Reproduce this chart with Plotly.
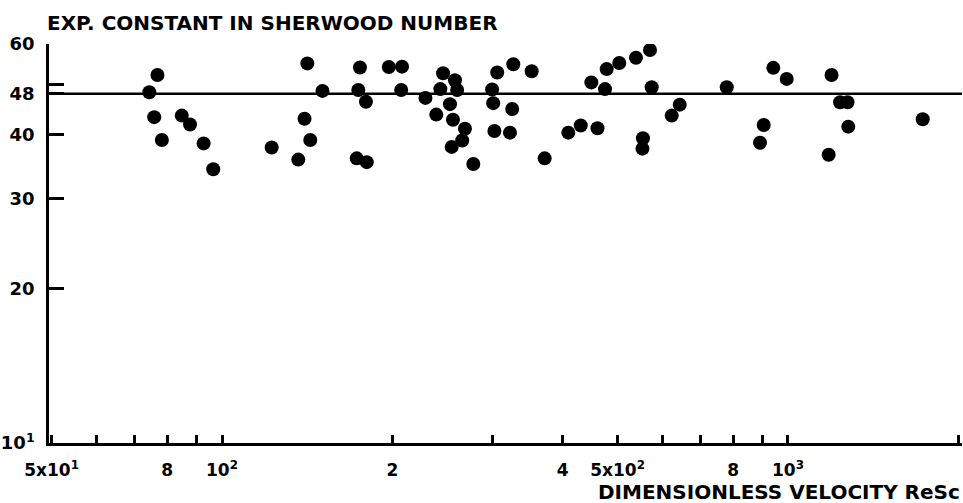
import plotly.graph_objects as go

re_sc = [74.4, 76.9, 75.9, 78.3, 84.9, 87.8, 92.8, 96.5, 122.4, 136.4,
         139.9, 143.2, 141.5, 150.5, 175.3, 174.1, 179.6, 173.0, 180.2, 197.1,
         208.0, 207.3, 228.8, 239.1, 245.8, 243.1, 258.0, 260.3, 252.8, 255.9,
         268.7, 265.7, 254.6, 278.0, 306.4, 327.1, 352.5, 300.1, 301.4, 325.6,
         302.9, 322.7, 371.6, 409.1, 430.4, 460.7, 449.3, 475.0, 478.3, 503.4,
         538.8, 570.4, 574.4, 554.3, 553.2, 623.1, 643.8, 779.5, 942.0, 994.8,
         906.0, 892.4, 1194, 1236, 1274, 1278, 1180, 1730]
sh_const = [48.3, 52.2, 43.2, 39.0, 43.5, 41.8, 38.4, 34.2, 37.7, 35.7,
            42.9, 39.0, 55.0, 48.6, 54.0, 48.8, 46.3, 35.9, 35.3, 54.1,
            54.2, 48.8, 47.1, 43.7, 52.6, 49.0, 51.0, 48.8, 45.8, 42.7,
            41.0, 38.9, 37.8, 35.0, 52.8, 54.8, 53.1, 48.9, 46.0, 44.8,
            40.6, 40.3, 35.9, 40.3, 41.6, 41.1, 50.5, 49.0, 53.6, 55.1,
            56.4, 58.4, 49.4, 39.3, 37.5, 43.5, 45.7, 49.4, 53.9, 51.3,
            41.7, 38.5, 52.2, 46.2, 46.2, 41.4, 36.5, 42.8]
mean_const = 48

x_tickvals = [50, 60, 70, 80, 90, 100, 200, 300, 400, 500, 600, 700, 800, 900, 1000, 2000]
x_ticktext = ["5x10<sup>1</sup>", "", "", "8", "", "10<sup>2</sup>", "2", "", "4",
              "5x10<sup>2</sup>", "", "", "8", "", "10<sup>3</sup>", "2"]
y_tickvals = [10, 20, 30, 40, 48, 50, 60]
y_ticktext = ["10<sup>1</sup>", "20", "30", "40", "48", "", "60"]

x_title = "DIMENSIONLESS VELOCITY ReSc"
y_title = "EXP. CONSTANT IN SHERWOOD NUMBER"

FONT = "DejaVu Sans"

fig = go.Figure()
fig.add_trace(go.Scatter(
    x=re_sc, y=sh_const, mode="markers",
    marker=dict(size=14, color="black", line=dict(width=0)),
    showlegend=False, hoverinfo="x+y"))

fig.add_hline(y=mean_const, line=dict(color="black", width=2.5))

fig.update_layout(
    width=963, height=503,
    margin=dict(l=49, r=1, t=44, b=60),
    paper_bgcolor="white", plot_bgcolor="white",
    font=dict(family=FONT, color="black"),
    xaxis=dict(
        type="log", range=[1.69435, 3.30745],
        tickmode="array", tickvals=x_tickvals, ticktext=x_ticktext,
        ticks="inside", ticklen=8, tickwidth=2.5, tickcolor="black",
        showline=True, linecolor="black", linewidth=2.5,
        showgrid=False, zeroline=False,
        tickfont=dict(family=FONT, size=17, color="black", weight="bold"),
        ticklabelstandoff=10,
    ),
    yaxis=dict(
        type="log", range=[1, 1.778151],
        tickmode="array", tickvals=y_tickvals, ticktext=y_ticktext,
        ticks="inside", ticklen=15, tickwidth=2.5, tickcolor="black",
        showline=True, linecolor="black", linewidth=2.5,
        showgrid=False, zeroline=False,
        tickfont=dict(family=FONT, size=18, color="black", weight="bold"),
        ticklabelstandoff=8,
    ),
    annotations=[
        dict(text=y_title, xref="paper", yref="paper",
             x=-0.0044, y=1.0526, xanchor="left", yanchor="middle",
             showarrow=False,
             font=dict(family=FONT, size=20, color="black", weight="bold")),
        dict(text=x_title, xref="paper", yref="paper",
             x=1.0, y=-0.1235, xanchor="right", yanchor="middle",
             showarrow=False,
             font=dict(family=FONT, size=20, color="black", weight="bold")),
    ],
)

fig.write_html("out.html")
